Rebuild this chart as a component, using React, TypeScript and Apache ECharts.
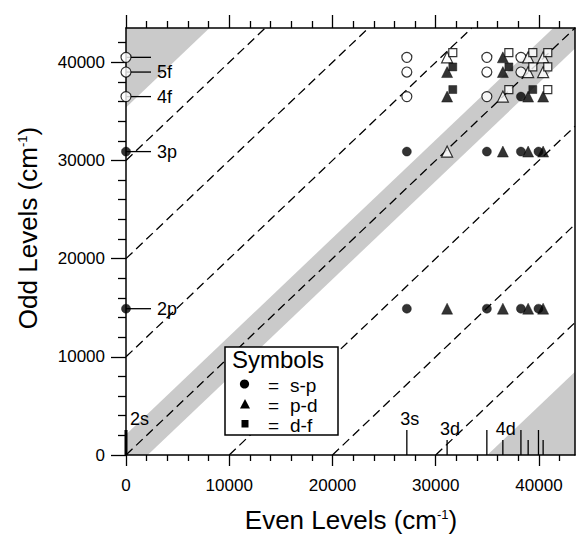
import React, { useEffect, useRef } from 'react';
import * as echarts from 'echarts';

const AXIS_MAX = 43487;
const MAJOR_TICKS = [0, 10000, 20000, 30000, 40000];
const MINOR_TICKS = [2000, 4000, 6000, 8000, 12000, 14000, 16000, 18000, 22000, 24000, 26000, 28000, 32000, 34000, 36000, 38000, 42000];

// [even level, odd level] pairs
const openCircles = [
  [0, 40500], [0, 39000], [0, 36500],
  [27200, 40500], [27200, 39000], [27200, 36500],
  [34950, 40500], [34950, 39000], [34950, 36500],
  [38250, 40500], [38250, 39000],
];
const filledCircles = [
  [0, 30900], [0, 14900],
  [27200, 30900], [27200, 14900],
  [34950, 30900], [34950, 14900],
  [38250, 36500], [38250, 30900], [38250, 14900],
  [39950, 30900], [39950, 14900],
];
const openTriangles = [
  [31100, 40500], [31100, 30900],
  [36500, 36500],
  [38950, 40500], [38950, 39000],
  [40400, 40500], [40400, 39000],
];
const filledTriangles = [
  [31100, 39000], [31100, 36500], [31100, 14900],
  [36500, 40500], [36500, 39000], [36500, 30900], [36500, 14900],
  [38950, 36500], [38950, 30900], [38950, 14900],
  [40400, 36500], [40400, 30900], [40400, 14900],
];
const openSquares = [
  [31650, 40970], [37080, 40970], [39400, 40970], [40850, 40970],
  [39400, 39520], [40850, 39520],
  [37080, 37220], [40850, 37220],
];
const filledSquares = [
  [31650, 39520], [31650, 37220], [37080, 39520], [39400, 37220],
];

const dashedOffsets = [-30000, -20000, -10000, 0, 10000, 20000, 30000];

const grayBand = [[0, 0], [2100, 0], [43487, 41387], [43487, 43487], [41387, 43487], [0, 2100]];
const grayTopLeft = [[0, 35400], [0, 43487], [8087, 43487]];
const grayBottomRight = [[35000, 0], [43487, 0], [43487, 8487]];
const grayRegions = [grayBand, grayTopLeft, grayBottomRight];

const oddLevelValues = [40500, 39000, 36500, 30900, 14900];
const oddLevelNames = ['', '5f', '4f', '3p', '2p'];
const evenLevelValues = [0, 27200, 31100, 34950, 36500, 38250, 38950, 39950, 40400];
const evenLevelKinds = ['s', 's', 'd', 's', 'd', 's', 'd', 's', 'd'];
const evenLevelNames = ['2s', '3s', '3d', '', '4d', '', '', '', ''];

const xTitleParts = ['Even Levels (cm', '-1', ')'];
const yTitleParts = ['Odd Levels (cm', '-1', ')'];
const legendTitle = 'Symbols';
const legendPairs = ['s-p', 'p-d', 'd-f'];

const FONT = '"Liberation Sans", Arial, Helvetica, sans-serif';
const GRAY = '#cacaca';

function measure(text: string, size: number) {
  const ctx = document.createElement('canvas').getContext('2d');
  if (!ctx) return text.length * size * 0.5;
  ctx.font = `${size}px "Liberation Sans", Arial, sans-serif`;
  return ctx.measureText(text).width;
}

// builds title texts laid out along a line, centred on 0
function titleChildren(parts: string[]) {
  const sizes = [26, 13, 26];
  const widths = parts.map((p, i) => measure(p, sizes[i]));
  const total = widths.reduce((a, b) => a + b, 0);
  let x = -total / 2;
  return parts.map((p, i) => {
    const el = {
      type: 'text',
      x,
      y: i === 1 ? -6 : 0,
      style: { text: p, fill: '#000', fontSize: sizes[i], fontFamily: FONT, align: 'left', verticalAlign: 'middle' },
    };
    x += widths[i];
    return el;
  });
}

function axis(position: string, ticks: number[], tickLen: number, showLine: boolean, showLabel: boolean, margin = 0) {
  return {
    type: 'value',
    min: 0,
    max: AXIS_MAX,
    position,
    z: 3,
    splitLine: { show: false },
    axisLine: { show: showLine, onZero: false, lineStyle: { color: '#000', width: 1.5 } },
    axisTick: { show: ticks.length > 0, customValues: ticks, length: tickLen, lineStyle: { color: '#000', width: 1.3 } },
    minorTick: { show: false },
    axisLabel: {
      show: showLabel,
      customValues: MAJOR_TICKS,
      formatter: (v: number) => String(v),
      fontSize: 17,
      fontFamily: FONT,
      color: '#000',
      margin,
    },
  };
}

function scatter(data: number[][], symbol: string, size: number, filled: boolean, z: number) {
  return {
    type: 'scatter',
    data,
    symbol,
    symbolSize: size,
    z,
    clip: false,
    silent: true,
    itemStyle: filled
      ? { color: '#000', borderColor: '#000', borderWidth: 0.5 }
      : { color: '#fff', borderColor: '#000', borderWidth: 1.2 },
  };
}

export default function App() {
  const ref = useRef<HTMLDivElement>(null);

  useEffect(() => {
    const chart = echarts.init(ref.current!, null, { renderer: 'svg' });

    const dashedSeries = dashedOffsets.map((off) => ({
      type: 'line',
      data: off >= 0 ? [[0, off], [AXIS_MAX - off, AXIS_MAX]] : [[-off, 0], [AXIS_MAX, AXIS_MAX + off]],
      symbol: 'none',
      z: 2,
      silent: true,
      lineStyle: { color: '#000', width: 1.3, type: [9, 5] },
    }));

    const legendText = (text: string, x: number, y: number, size: number) => ({
      type: 'text',
      z: 101,
      x,
      y,
      style: { text, fill: '#000', fontSize: size, fontFamily: FONT, align: 'left', verticalAlign: 'middle', lineHeight: 17 },
    });

    const option: any = {
      animation: false,
      backgroundColor: '#fff',
      grid: { left: 126, top: 28, right: 4, bottom: 81 },
      xAxis: [
        axis('bottom', MAJOR_TICKS, 11, true, true, 22),
        axis('bottom', MINOR_TICKS, 6, false, false),
        axis('top', MAJOR_TICKS, 13, true, false),
        axis('top', MINOR_TICKS, 7, false, false),
      ],
      yAxis: [
        axis('left', MAJOR_TICKS, 15, true, true, 21),
        axis('left', MINOR_TICKS, 8, false, false),
        axis('right', [], 0, true, false),
      ],
      series: [
        {
          type: 'custom',
          z: 1,
          silent: true,
          clip: false,
          data: grayRegions.map((r) => r[0]),
          renderItem: (params: any, api: any) => {
            const pts = grayRegions[params.dataIndex].map((p) => api.coord(p));
            return { type: 'polygon', shape: { points: pts }, style: { fill: GRAY } };
          },
        },
        ...dashedSeries,
        {
          type: 'custom',
          z: 4,
          silent: true,
          clip: false,
          data: oddLevelValues.map((v) => [0, v]),
          renderItem: (params: any, api: any) => {
            const p = api.coord([0, api.value(1)]);
            const name = oddLevelNames[params.dataIndex];
            return {
              type: 'group',
              children: [
                { type: 'line', shape: { x1: p[0], y1: p[1], x2: p[0] + 25, y2: p[1] }, style: { stroke: '#000', lineWidth: 1.3 } },
                {
                  type: 'text',
                  x: p[0] + 31,
                  y: p[1],
                  style: { text: name, fill: '#000', fontSize: 18, fontFamily: FONT, align: 'left', verticalAlign: 'middle' },
                },
              ],
            };
          },
        },
        {
          type: 'custom',
          z: 4,
          silent: true,
          clip: false,
          data: evenLevelValues.map((v) => [v, 0]),
          renderItem: (params: any, api: any) => {
            const p = api.coord([api.value(0), 0]);
            const i = params.dataIndex;
            const h = evenLevelKinds[i] === 's' ? 25 : 15;
            const name = evenLevelNames[i];
            const first = i === 0;
            return {
              type: 'group',
              children: [
                { type: 'line', shape: { x1: p[0], y1: p[1], x2: p[0], y2: p[1] - h }, style: { stroke: '#000', lineWidth: first ? 3 : 1.3 } },
                {
                  type: 'text',
                  x: first ? p[0] + 4 : p[0] + 3,
                  y: p[1] - h - 2,
                  style: { text: name, fill: '#000', fontSize: 18, fontFamily: FONT, align: first ? 'left' : 'center', verticalAlign: 'bottom' },
                },
              ],
            };
          },
        },
        scatter(openCircles, 'circle', 10, false, 5),
        scatter(filledCircles, 'circle', 9, true, 5),
        scatter(openTriangles, 'triangle', 11, false, 6),
        scatter(filledTriangles, 'triangle', 11, true, 6),
        scatter(openSquares, 'rect', 8, false, 7),
        scatter(filledSquares, 'rect', 8, true, 7),
      ],
      graphic: [
        { type: 'group', x: 351, y: 520, z: 100, children: titleChildren(xTitleParts) },
        { type: 'group', x: 28, y: 228, rotation: Math.PI / 2, z: 100, children: titleChildren(yTitleParts) },
        {
          type: 'group',
          z: 100,
          children: [
            { type: 'rect', z: 100, shape: { x: 225, y: 347, width: 113, height: 88 }, style: { fill: '#fff', stroke: '#000', lineWidth: 1.5 } },
            legendText(legendTitle, 232, 359, 24),
            { type: 'circle', z: 101, shape: { cx: 244.5, cy: 384, r: 4.6 }, style: { fill: '#000' } },
            { type: 'polygon', z: 101, shape: { points: [[245, 399], [240, 408.5], [250, 408.5]] }, style: { fill: '#000' } },
            { type: 'rect', z: 101, shape: { x: 241.5, y: 420, width: 7, height: 7.5 }, style: { fill: '#000' } },
            ...legendPairs.flatMap((t, i) => [
              legendText('=', 268, 385 + i * 20, 19),
              legendText(t, 290, 385 + i * 20, 19),
            ]),
          ],
        },
      ],
    };

    chart.setOption(option);
    return () => chart.dispose();
  }, []);

  return (
    <div
      ref={ref}
      style={{ position: 'fixed', left: 0, top: 0, width: 579, height: 536, background: '#fff' }}
    />
  );
}
